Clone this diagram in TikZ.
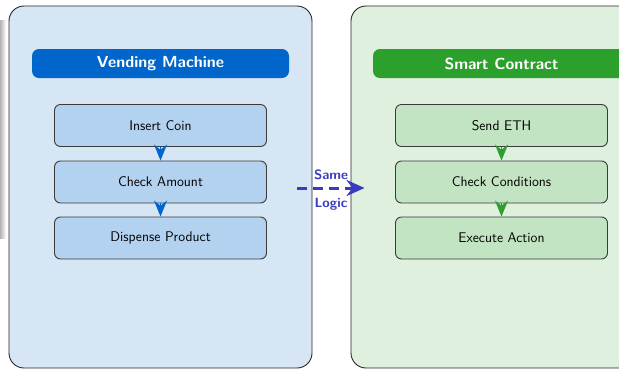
\documentclass[tikz,border=0pt]{standalone}
\usetikzlibrary{arrows.meta,positioning}

\definecolor{vmblue}{HTML}{0066CC}
\definecolor{vmpanel}{HTML}{D6E6F5}
\definecolor{vmbox}{HTML}{B3D2F0}
\definecolor{scgreen}{HTML}{2CA02C}
\definecolor{scpanel}{HTML}{DFF0DF}
\definecolor{scbox}{HTML}{C2E4C2}
\definecolor{logicblue}{HTML}{3B3BBF}
\definecolor{boxline}{HTML}{3A3A3A}

\tikzset{
  panel/.style={draw=black!85, line width=0.9pt, rounded corners=15pt,
    minimum width=303pt, minimum height=362pt, inner sep=0pt},
  titlebar/.style={rounded corners=7pt, minimum width=257pt, minimum height=29pt,
    inner sep=0pt, text=white, font=\sffamily\bfseries\fontsize{16}{19}\selectfont},
  stepbox/.style={draw=boxline, line width=0.9pt, rounded corners=6pt,
    minimum width=212pt, minimum height=42pt, inner sep=0pt,
    font=\sffamily\fontsize{14}{17}\selectfont},
  flowarrow/.style={line width=1.2pt, -{Stealth[length=16pt,width=13pt]}},
  samearrow/.style={draw=logicblue, line width=3pt, dash pattern=on 10pt off 6pt,
    -{Stealth[length=18pt,width=16pt]}},
  logiclabel/.style={text=logicblue, font=\sffamily\bfseries\fontsize{13.5}{16}\selectfont}
}

\begin{document}
\begin{tikzpicture}[x=1pt,y=-1pt]
  \useasboundingbox (0,0) rectangle (619,368);
  \clip (0,0) rectangle (619,368);

  % faint shadow at the left edge
  \shade[left color=black!30, right color=white] (0,20) rectangle (6,238);

  % the two panels
  \node[panel, fill=vmpanel] (vm) at (160.5,187) {};
  \node[panel, fill=scpanel] (sc) at (502.5,187) {};

  % panel titles
  \node[titlebar, fill=vmblue] (vmtitle) at (160.5,63.5) {Vending Machine};
  \node[titlebar, fill=scgreen] (sctitle) at (501.5,63.5) {Smart Contract};

  % vending machine steps
  \node[stepbox, fill=vmbox] (coin)     at (160.5,125.5) {Insert Coin};
  \node[stepbox, fill=vmbox] (amount)   at (160.5,182)   {Check Amount};
  \node[stepbox, fill=vmbox] (dispense) at (160.5,238)   {Dispense Product};

  % smart contract steps
  \node[stepbox, fill=scbox] (eth)     at (501.5,125.5) {Send ETH};
  \node[stepbox, fill=scbox] (conds)   at (501.5,182)   {Check Conditions};
  \node[stepbox, fill=scbox] (execute) at (501.5,238)   {Execute Action};

  % flow inside each panel
  \draw[flowarrow, vmblue] (coin.south) -- (amount.north);
  \draw[flowarrow, vmblue] (amount.south) -- (dispense.north);
  \draw[flowarrow, scgreen] (eth.south) -- (conds.north);
  \draw[flowarrow, scgreen] (conds.south) -- (execute.north);

  % link between the panels
  \draw[samearrow] ([xshift=-15pt,yshift=-1pt]vm.east) -- ([xshift=14pt,yshift=-1pt]sc.west)
    node[logiclabel, midway, above=3pt] (same) {Same}
    node[logiclabel, midway, below=5pt] (logic) {Logic};
\end{tikzpicture}
\end{document}
